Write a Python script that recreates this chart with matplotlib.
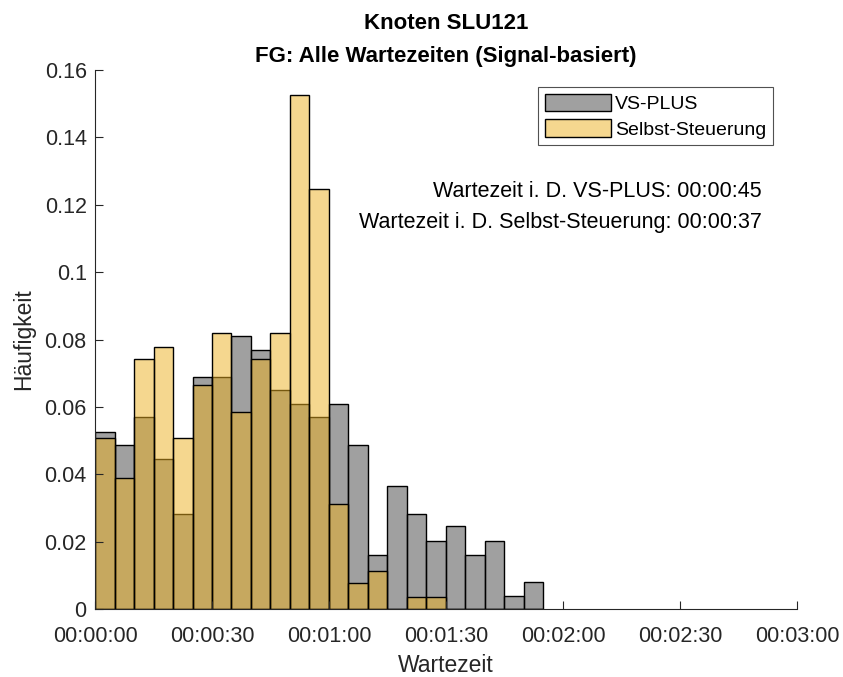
import numpy as np
import matplotlib
matplotlib.use("Agg")
import matplotlib.pyplot as plt
from matplotlib.ticker import FuncFormatter

plt.rcParams['font.family'] = ['Liberation Sans', 'DejaVu Sans']

# bins of 5 seconds, left edges in seconds
bin_left = [0, 5, 10, 15, 20, 25, 30, 35, 40, 45, 50, 55, 60,
            65, 70, 75, 80, 85, 90, 95, 100, 105, 110]
bin_width = 5

vs_plus = [0.0526, 0.0487, 0.0569, 0.0446, 0.0282, 0.0690, 0.0690, 0.0811,
           0.0770, 0.0649, 0.0609, 0.0569, 0.0609, 0.0487, 0.0160, 0.0365,
           0.0281, 0.0201, 0.0245, 0.0160, 0.0201, 0.0038, 0.0081]
selbst = [0.0507, 0.0388, 0.0741, 0.0779, 0.0507, 0.0664, 0.0818, 0.0584,
          0.0741, 0.0818, 0.1525, 0.1248, 0.0311, 0.0076, 0.0114, 0.0,
          0.0037, 0.0037, 0.0, 0.0, 0.0, 0.0, 0.0]

labels = ['VS-PLUS', 'Selbst-Steuerung']
info_text = ('Wartezeit i. D. VS-PLUS: 00:00:45\n'
             'Wartezeit i. D. Selbst-Steuerung: 00:00:37')

dark = '#262626'
gray_face = (0.45, 0.45, 0.45, 0.68)
yellow_face = (0.929, 0.694, 0.125, 0.5)

fig = plt.figure(figsize=(8.43, 6.77), dpi=100)
ax = fig.add_axes([0.1127, 0.1004, 0.8327, 0.7962])

ax.bar(bin_left, vs_plus, width=bin_width, align='edge',
       facecolor=gray_face, edgecolor='black', linewidth=1.0, label=labels[0])
ax.bar(bin_left, selbst, width=bin_width, align='edge',
       facecolor=yellow_face, edgecolor='black', linewidth=1.0, label=labels[1])

ax.set_xlim(0, 180)
ax.set_ylim(0, 0.16)
ax.set_xticks(np.arange(0, 181, 30))
ax.set_yticks(np.arange(0, 0.161, 0.02))


def hms(x, pos):
    s = int(round(x))
    return '%02d:%02d:%02d' % (s // 3600, (s % 3600) // 60, s % 60)


def yfmt(y, pos):
    return ('%.2f' % y).rstrip('0').rstrip('.') if y != 0 else '0'


ax.xaxis.set_major_formatter(FuncFormatter(hms))
ax.yaxis.set_major_formatter(FuncFormatter(yfmt))

for side in ['top', 'right']:
    ax.spines[side].set_visible(False)
for side in ['left', 'bottom']:
    ax.spines[side].set_color(dark)
    ax.spines[side].set_linewidth(0.8)
ax.tick_params(direction='in', length=6, width=0.8, color=dark,
               labelcolor=dark, labelsize=15.5, pad=6)
ax.tick_params(axis='x', pad=12)

ax.set_xlabel('Wartezeit', fontsize=16.5, color=dark, labelpad=5)
ax.set_ylabel('Häufigkeit', fontsize=16.5, color=dark, labelpad=7)
ax.set_title('Knoten SLU121\nFG: Alle Wartezeiten (Signal-basiert)',
             fontsize=16, fontweight='bold', color='black', pad=6,
             linespacing=1.75)

leg = ax.legend(loc='upper right', bbox_to_anchor=(0.966, 0.968), fontsize=14,
                frameon=True, fancybox=False, handlelength=3.4,
                handleheight=1.0, handletextpad=0.2, borderpad=0.35,
                labelspacing=0.3, borderaxespad=0)
leg.get_frame().set_edgecolor(dark)
leg.get_frame().set_linewidth(0.8)

ax.text(0.95, 0.746, info_text, transform=ax.transAxes, ha='right',
        va='center', fontsize=15.5, color='black', linespacing=1.6,
        multialignment='right')

fig.savefig('out.png', dpi=100)
